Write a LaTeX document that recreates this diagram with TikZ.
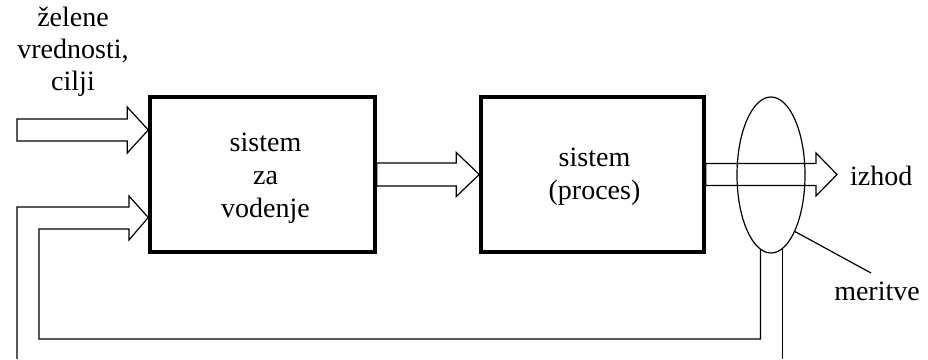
\documentclass[tikz,border=0pt]{standalone}
\usepackage{fontspec}
\setmainfont{Liberation Serif}
\usetikzlibrary{calc,shapes.geometric}
\tikzset{
 block/.style={draw, line width=3.5pt, minimum width=225pt, minimum height=155pt, inner sep=0pt},
 pipe/.style={line width=1.2pt, line join=miter},
 lbl/.style={inner sep=0pt, font=\fontsize{28}{32}\selectfont, align=center},
}
\newcommand\hollowarrow[5]{%
 \draw[pipe] ($(#1)+(0,-#3)$) -- ($(#2)+(-#5,-#3)$) -- ($(#2)+(-#5,-#4)$) -- (#2) -- ($(#2)+(-#5,#4)$) -- ($(#2)+(-#5,#3)$) -- ($(#1)+(0,#3)$) -- cycle;}
\begin{document}
\begin{tikzpicture}[x=1pt,y=-1pt]
\useasboundingbox (0,0) rectangle (928,359);
\node[block] (ctrl) at (262.5,174.5) {};
\node[lbl, font=\fontsize{28}{33}\selectfont] (ctrltxt) at ($(ctrl)+(3,4)$) {sistem\\za\\vodenje};
\node[block, minimum width=223pt] (proc) at (592.5,174.5) {};
\node[lbl, font=\fontsize{28}{33}\selectfont] (proctxt) at ($(proc)+(2,2)$) {sistem\\(proces)};
\node[draw, ellipse, line width=1.2pt, minimum width=68pt, minimum height=156pt, inner sep=0pt] (meas) at (771,175) {};
\node[lbl] (goal) at (73,52) {želene\\vrednosti,\\cilji};
\coordinate (in0) at (17,130);
\coordinate (t1) at (ctrl.west |- in0);
\hollowarrow{in0}{t1}{11}{23}{21}
\hollowarrow{ctrl.east}{proc.west}{11.5}{22}{23}
\coordinate (out) at (837,174.5);
\hollowarrow{proc.east}{out}{11}{21.5}{21}
\node[lbl, anchor=west] (izhod) at (850,175.5) {izhod};
\node[lbl] (mer) at (877,291) {meritve};
\coordinate (ml) at (871,273);
\draw[pipe] (meas.-67) -- (ml);
% feedback loop
\coordinate (t2) at ($(ctrl.west)+(0,43)$);
\coordinate (bot) at (0,359);
\coordinate (inb) at (0,339);
\draw[pipe] (meas.-81.5) -- (meas.-81.5 |- bot);
\draw[pipe] (17,359) -- (17,207) -- (129,207) -- (129,196) -- (t2) -- (129,240) -- (129,229) -- (39,229) -- (39,339) -- (meas.-98.5 |- inb) -- (meas.-98.5);
\end{tikzpicture}
\end{document}
